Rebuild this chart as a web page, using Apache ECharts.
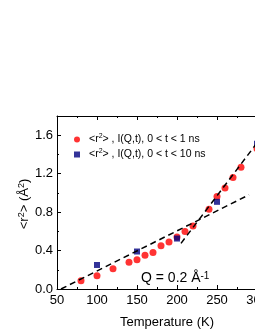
<!DOCTYPE html>
<html>
<head>
<meta charset="utf-8">
<script src="https://cdn.jsdelivr.net/npm/echarts@6/dist/echarts.min.js"></script>
<style>html,body{margin:0;padding:0;background:#fff}#c{width:255px;height:330px}</style>
</head>
<body>
<div id="c"></div>
<script>
// Data
var redT = [80, 100, 120, 140, 150, 160, 170, 180, 190, 200, 210, 220, 240, 250, 260, 270, 280, 300];
var redR = [0.085, 0.138, 0.21, 0.278, 0.305, 0.352, 0.38, 0.45, 0.488, 0.54, 0.598, 0.655, 0.83, 0.962, 1.05, 1.16, 1.268, 1.46];
var blueT = [100, 150, 200, 250, 300];
var blueR = [0.25, 0.39, 0.525, 0.907, 1.51];
var fitLowT = [55, 290];
var fitLowR = [0.0, 0.98];
var fitHighT = [205, 305];
var fitHighR = [0.475, 1.575];
var xTicks = {min: 50, max: 300, step: 50};
var yTicks = {min: 0, max: 1.8, step: 0.4};
var redName = '<r2> , I(Q,t), 0 < t < 1 ns';
var blueName = '<r2> , I(Q,t), 0 < t < 10 ns';

function pairs(xs, ys) { return xs.map(function (x, i) { return [x, ys[i]]; }); }

var FONT = '"Liberation Sans", Arial, sans-serif';
var chart = echarts.init(document.getElementById('c'), null, {renderer: 'canvas'});
var axisCommon = {
  axisLine: {lineStyle: {color: '#000', width: 1}},
  axisTick: {inside: true, length: 4, lineStyle: {color: '#000'}},
  minorTick: {show: true, splitNumber: 2, length: 2, lineStyle: {color: '#000'}},
  splitLine: {show: false}
};
var option = {
  animation: false,
  backgroundColor: '#fff',
  grid: {left: 57, top: 116, width: 200, height: 173, containLabel: false, outerBoundsMode: 'none'},
  legend: {
    orient: 'vertical', left: 69, top: 128, itemGap: 2,
    itemWidth: 14, itemHeight: 6,
    data: [{name: redName, icon: 'circle'}, {name: blueName, icon: 'path://M0,0L1,0L1,1L0,1Z'}],
    formatter: function (n) { return n.replace('<r2>', '<r{sup|2}>'); },
    textStyle: {fontFamily: FONT, fontSize: 10.5, color: '#000', lineHeight: 13,
      rich: {sup: {fontFamily: FONT, fontSize: 7, verticalAlign: 'top', lineHeight: 9, color: '#000'}}}
  },
  xAxis: [
    Object.assign({
      type: 'value', position: 'bottom', min: xTicks.min, max: xTicks.max, interval: xTicks.step,
      axisLabel: {fontFamily: FONT, fontSize: 13, color: '#000', margin: 5},
      name: 'Temperature (K)', nameLocation: 'middle', nameGap: 27,
      nameTextStyle: {fontFamily: FONT, fontSize: 13, color: '#000', padding: [0, 0, 0, 20]}
    }, axisCommon),
    Object.assign({
      type: 'value', position: 'top', min: xTicks.min, max: xTicks.max, interval: xTicks.step,
      axisLabel: {show: false}
    }, axisCommon)
  ],
  yAxis: [
    Object.assign({
      type: 'value', min: yTicks.min, max: yTicks.max, interval: yTicks.step,
      axisLabel: {fontFamily: FONT, fontSize: 13, color: '#000', margin: 4,
        formatter: function (v) { return v > 1.7 ? '' : v.toFixed(1); }}
    }, axisCommon)
  ],
  series: [
    {name: redName, type: 'scatter', symbol: 'circle', symbolSize: 7,
      itemStyle: {color: '#ff0000'}, data: pairs(redT, redR), z: 2},
    {name: blueName, type: 'scatter', symbol: 'rect', symbolSize: 6,
      itemStyle: {color: '#000080'}, data: pairs(blueT, blueR), z: 3},
    {type: 'line', data: pairs(fitLowT, fitLowR), symbol: 'none', silent: true,
      lineStyle: {color: '#000', width: 1.5, type: [6, 4]}, z: 4},
    {type: 'line', data: pairs(fitHighT, fitHighR), symbol: 'none', silent: true,
      lineStyle: {color: '#000', width: 1.5, type: [6, 4]}, z: 4}
  ],
  graphic: [{
    type: 'text', left: 141, top: 271,
    style: {text: 'Q = 0.2 Å{sup|-1}', fontFamily: FONT, fontSize: 14, fill: '#000',
      rich: {sup: {fontFamily: FONT, fontSize: 10, verticalAlign: 'top', fill: '#000'}}}
  }, {
    type: 'text', x: 24, y: 204, rotation: Math.PI / 2,
    style: {text: '<r{sup|2}> (Å{sup|2})', fontFamily: FONT, fontSize: 13, fill: '#000',
      align: 'center', verticalAlign: 'middle',
      rich: {sup: {fontFamily: FONT, fontSize: 9, verticalAlign: 'top', fill: '#000'}}}
  }]
};
chart.setOption(option);
</script>
</body>
</html>
